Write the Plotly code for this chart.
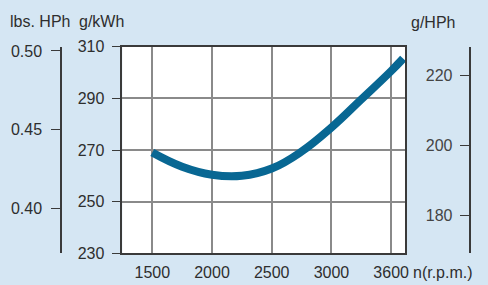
import plotly.graph_objects as go

# Data
rpm = [1500, 1750, 2000, 2250, 2500, 2750, 3000, 3250, 3500, 3600]
bsfc_gkwh = [269.0, 263.5, 260.4, 260.0, 262.8, 269.4, 278.7, 289.6, 300.6, 305.4]

x_tickvals = [1500, 2000, 2500, 3000, 3500]
x_ticktext = ["1500", "2000", "2500", "3000", "3600"]
y_gkwh_ticks = [230, 250, 270, 290, 310]
y_lbs_ticks = [0.40, 0.45, 0.50]
y_lbs_text = ["0.40", "0.45", "0.50"]
y_ghph_ticks = [180, 200, 220]

W, H = 488, 285
BG = "#d5e6f3"
TXT = "#2e2e2e"
AX = "#3a3a3a"
GRID = "#8a8a8a"
LINE = "#086793"
FONT = "Liberation Sans, Arial"
FS = 16

xl, xr = 122.3, 405.0
yt, yb = 46.7, 253.3
xdom = [xl / W, xr / W]
ydom = [1 - yb / H, 1 - yt / H]

fig = go.Figure()
fig.add_trace(go.Scatter(x=rpm, y=bsfc_gkwh, mode="lines",
                         line=dict(color=LINE, width=8, shape="spline", smoothing=1.2),
                         showlegend=False, hoverinfo="skip"))
fig.add_trace(go.Scatter(x=[None], y=[None], yaxis="y2", showlegend=False))
fig.add_trace(go.Scatter(x=[None], y=[None], yaxis="y3", showlegend=False))

fig.update_layout(
    template="none",
    width=W, height=H,
    margin=dict(l=0, r=0, t=0, b=0, pad=0),
    paper_bgcolor=BG, plot_bgcolor="white",
    font=dict(family=FONT, size=FS, color=TXT),
    showlegend=False,
    xaxis=dict(domain=xdom, range=[1249, 3616], tickvals=x_tickvals, ticktext=x_ticktext,
               showgrid=True, gridcolor=GRID, gridwidth=1.5, showline=True, mirror=True,
               linecolor=AX, linewidth=1.5, ticks="", zeroline=False, automargin=False,
               ticklabelstandoff=4),
    yaxis=dict(domain=ydom, range=[230, 310], tickvals=y_gkwh_ticks,
               showgrid=True, gridcolor=GRID, gridwidth=1.5, showline=True, mirror=True,
               linecolor=AX, linewidth=1.5, ticks="outside", ticklen=9, tickcolor=AX,
               tickwidth=1.2, zeroline=False, automargin=False, ticklabelstandoff=4),
    yaxis2=dict(overlaying="y", anchor="free", position=61 / W, side="left",
                range=[0.3714, 0.5027], tickvals=y_lbs_ticks, ticktext=y_lbs_text,
                showgrid=False, showline=True, linecolor=AX, linewidth=1.5,
                ticks="outside", ticklen=9, tickcolor=AX, tickwidth=1.2,
                zeroline=False, automargin=False, ticklabelstandoff=6),
    yaxis3=dict(overlaying="y", anchor="free", position=470 / W, side="right",
                range=[169.06, 228.1], tickvals=y_ghph_ticks,
                showgrid=False, showline=True, linecolor=AX, linewidth=1.5,
                ticks="inside", ticklabelposition="inside", ticklen=9, tickcolor=AX,
                tickwidth=1.2, zeroline=False, automargin=False, ticklabelstandoff=8),
)

def label(text, xc, yc):
    fig.add_annotation(text=text, x=xc / W, y=1 - yc / H, xref="paper", yref="paper",
                       showarrow=False, xanchor="center", yanchor="middle",
                       font=dict(family=FONT, size=FS, color=TXT))

label("lbs. HPh", 40, 21)
label("g/kWh", 101, 21)
label("g/HPh", 433, 22)
label("n(r.p.m.)", 443, 272)

fig.write_html("out.html", config={"displayModeBar": False},
               post_script="document.body.style.margin='0';document.body.style.overflow='hidden';")
